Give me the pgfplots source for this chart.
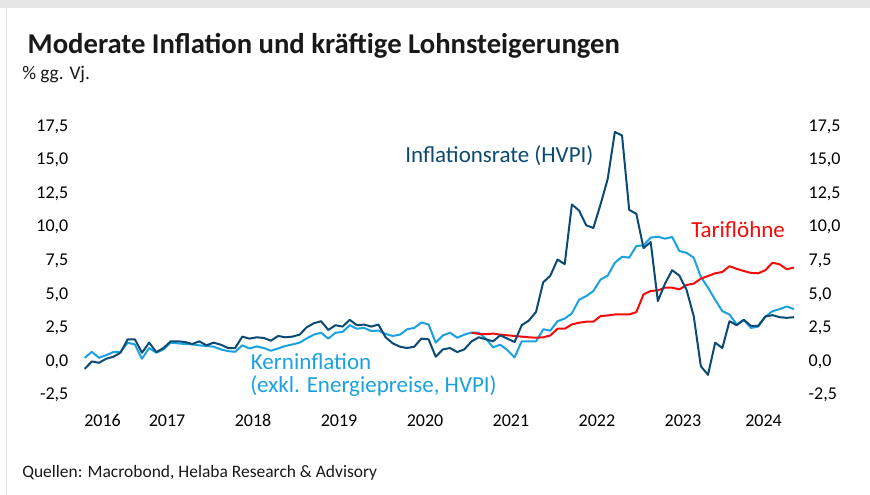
\documentclass[border=0pt]{standalone}
\usepackage{fontspec}
\setmainfont{Carlito}
\usepackage{pgfplots}
\pgfplotsset{compat=1.18}
\usepackage{pgfplotstable}

\definecolor{dkblue}{HTML}{0B4A72}
\definecolor{ltblue}{HTML}{1BA1DF}
\definecolor{tred}{HTML}{F50A0A}
\definecolor{framegray}{HTML}{E6E6E6}

% month index: 0 = Jul 2016
\pgfplotstableread{
m hvpi kern
0 -0.55 0.27
1 0.0 0.72
2 -0.1 0.27
3 0.2 0.47
4 0.35 0.7
5 0.65 0.72
6 1.65 1.4
7 1.65 1.27
8 0.65 0.2
9 1.4 1.0
10 0.7 0.65
11 1.0 0.9
12 1.5 1.4
13 1.5 1.35
14 1.45 1.3
15 1.3 1.27
16 1.5 1.2
17 1.2 1.15
18 1.4 1.1
19 1.25 0.9
20 1.0 0.77
21 1.0 0.72
22 1.85 1.2
23 1.7 0.97
24 1.8 1.12
25 1.75 1.0
26 1.55 0.8
27 1.9 0.97
28 1.8 1.15
29 1.85 1.27
30 2.0 1.4
31 2.55 1.72
32 2.85 2.0
33 3.0 2.14
34 2.35 1.7
35 2.7 2.14
36 2.6 2.2
37 3.1 2.7
38 2.7 2.44
39 2.75 2.5
40 2.6 2.27
41 2.75 2.3
42 1.8 2.05
43 1.35 1.9
44 1.1 2.0
45 1.0 2.4
46 1.1 2.5
47 1.7 2.9
48 1.65 2.76
49 0.35 1.4
50 0.9 1.94
51 1.0 2.14
52 0.7 1.77
53 0.9 2.0
54 1.5 2.16
55 1.8 2.14
56 1.65 1.7
57 1.5 1.05
58 1.95 1.25
59 1.7 0.85
60 1.45 0.3
61 2.7 1.5
62 3.05 1.5
63 3.7 1.5
64 5.9 2.4
65 6.4 2.3
66 7.6 3.0
67 7.25 3.2
68 11.7 3.58
69 11.25 4.6
70 10.15 4.87
71 9.95 5.25
72 11.7 6.1
73 13.6 6.4
74 17.1 7.36
75 16.85 7.8
76 11.3 7.74
77 11.0 8.6
78 8.45 8.66
79 8.9 9.23
80 4.5 9.3
81 5.8 9.15
82 6.8 9.28
83 6.4 8.23
84 5.35 8.1
85 3.4 7.74
86 -0.35 6.3
87 -1.0 5.5
88 1.4 4.6
89 1.0 3.75
90 3.0 3.5
91 2.7 2.76
92 3.1 3.1
93 2.65 2.5
94 2.65 2.6
95 3.35 3.33
96 3.45 3.75
97 3.3 3.9
98 3.25 4.1
99 3.3 3.9
}\maindata

\pgfplotstableread{
m tarif
54 2.14
55 2.06
56 2.03
57 2.08
58 2.0
59 1.95
60 1.9
61 1.85
62 1.8
63 1.77
64 1.8
65 1.94
66 2.44
67 2.44
68 2.76
69 2.89
70 2.96
71 2.96
72 3.38
73 3.43
74 3.5
75 3.5
76 3.5
77 3.68
78 5.0
79 5.25
80 5.3
81 5.5
82 5.5
83 5.37
84 5.7
85 5.8
86 6.17
87 6.37
88 6.57
89 6.67
90 7.1
91 6.9
92 6.74
93 6.6
94 6.57
95 6.8
96 7.36
97 7.24
98 6.87
99 7.0
}\tarifdata

\pgfplotsset{
  myaxis/.style={
    scale only axis,
    width=548.25pt, height=201.25pt,
    at={(54.75pt,75pt)}, anchor=south west,
    xmin=-1.63, xmax=100.4,
    ymin=-2.5, ymax=17.5,
    axis line style={draw=none},
    major tick length=0pt,
    ytick={-2.5,0,2.5,5,7.5,10,12.5,15,17.5},
    ticklabel style={font=\fontsize{13.5}{15}\selectfont, text=black},
    yticklabel style={/pgf/number format/.cd, fixed, fixed zerofill, precision=1, use comma, assume math mode=true},
    clip=false,
  }
}

\begin{document}
\begin{tikzpicture}
\path[use as bounding box] (0,0) rectangle (652.5pt,371.25pt);
\fill[framegray] (0,365.25pt) rectangle (652.5pt,371.25pt);
\fill[framegray] (4.5pt,0) rectangle (5.6pt,365.25pt);

\begin{axis}[myaxis,
  xtick={2.5,11.5,23.5,35.5,47.5,59.5,71.5,83.5,94.75},
  xticklabels={2016,2017,2018,2019,2020,2021,2022,2023,2024},
  xticklabel style={anchor=base, yshift=-24pt},
  yticklabel pos=left,
]
\addplot[ltblue, line width=1.5pt, line join=round] table[x=m, y=kern] {\maindata};
\addplot[tred, line width=1.5pt, line join=round] table[x=m, y=tarif] {\tarifdata};
\addplot[dkblue, line width=1.5pt, line join=round] table[x=m, y=hvpi] {\maindata};
\end{axis}

\begin{axis}[myaxis,
  xtick=\empty,
  yticklabel pos=right,
]
\end{axis}

\node[anchor=base west, inner sep=0, font=\fontsize{21.5}{24}\selectfont\bfseries, text=black!90] at (20.6pt,331.3pt) {Moderate Inflation und kräftige Lohnsteigerungen};
\node[anchor=base west, inner sep=0, font=\fontsize{14.5}{16}\selectfont, text=black!90] at (16.5pt,311.25pt) {\% gg. Vj.};
\node[anchor=base west, inner sep=0, font=\fontsize{17.25}{19}\selectfont, text=dkblue] at (303.75pt,249.2pt) {Inflationsrate (HVPI)};
\node[anchor=base west, inner sep=0, font=\fontsize{17.25}{19}\selectfont, text=tred] at (518.25pt,192.75pt) {Tariflöhne};
\node[anchor=base west, inner sep=0, font=\fontsize{17.25}{19}\selectfont, text=ltblue] at (188pt,93.75pt) {Kerninflation};
\node[anchor=base west, inner sep=0, font=\fontsize{17.25}{19}\selectfont, text=ltblue] at (187.5pt,76.5pt) {(exkl. Energiepreise, HVPI)};
\node[anchor=base west, inner sep=0, font=\fontsize{13.1}{15}\selectfont, text=black!90] at (16.5pt,12.75pt) {Quellen: Macrobond, Helaba Research \& Advisory};
\end{tikzpicture}
\end{document}
